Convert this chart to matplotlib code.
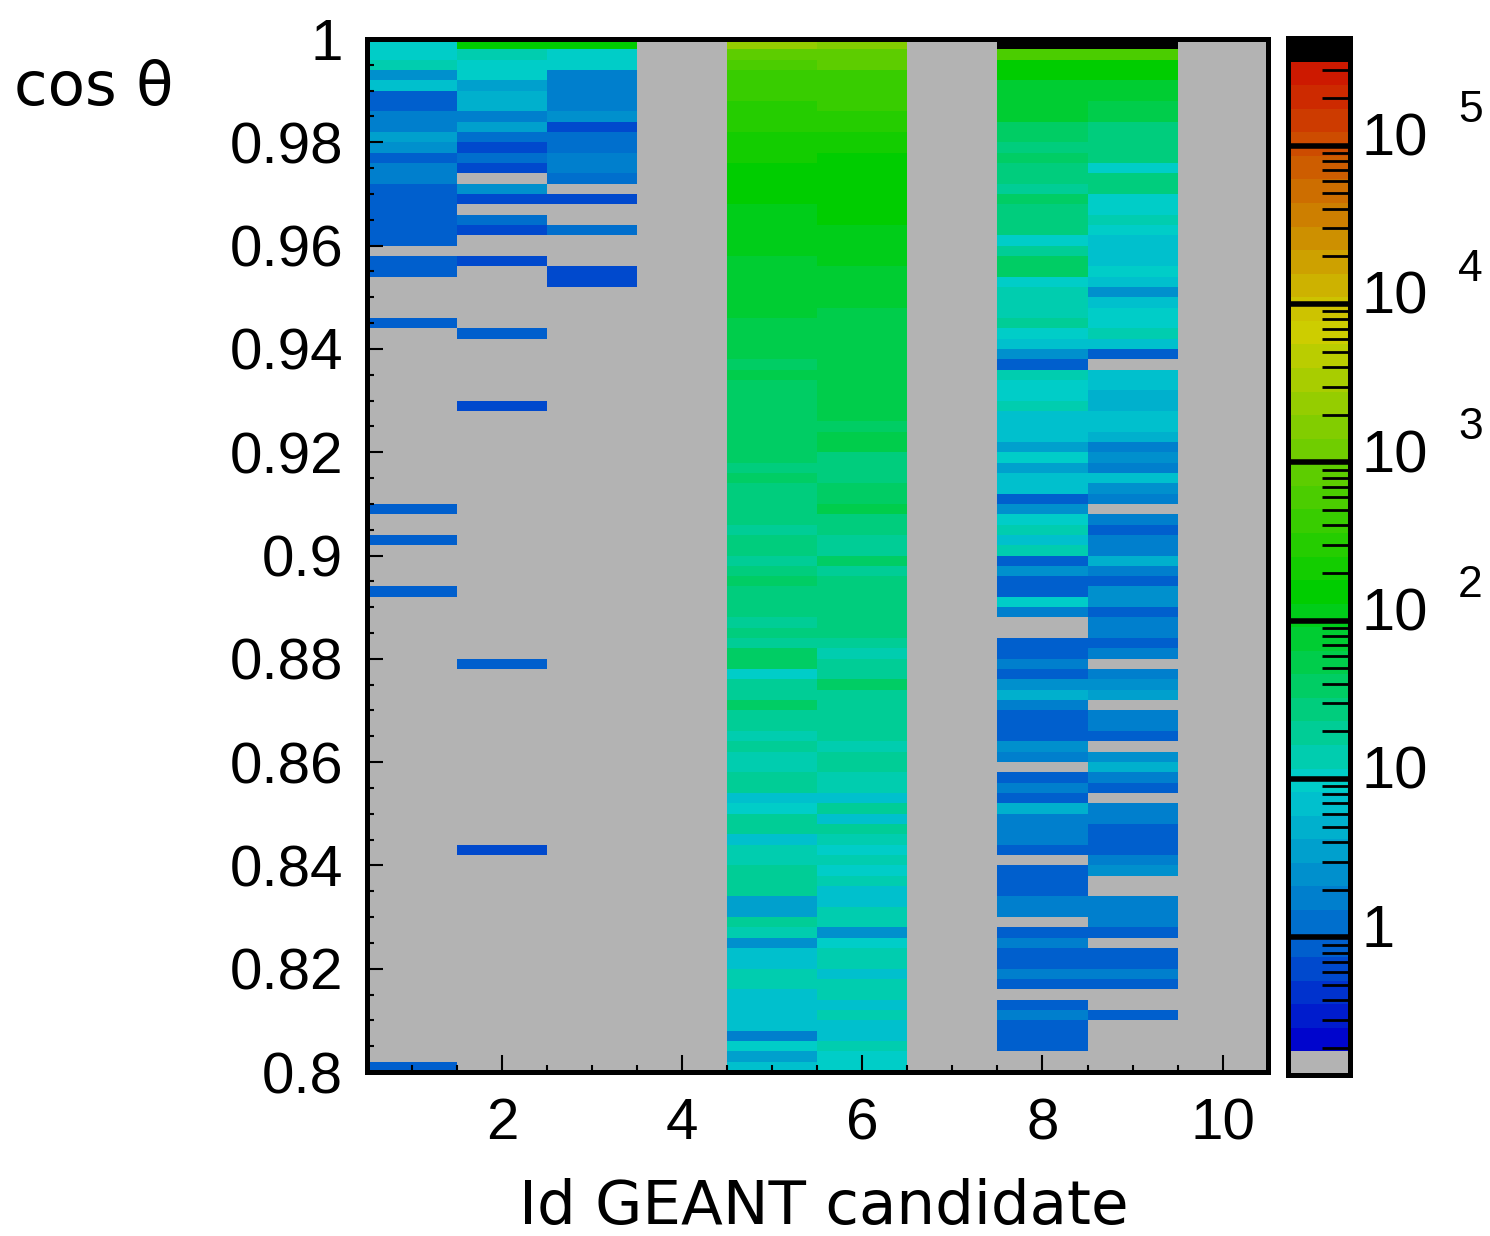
import numpy as np
import matplotlib.pyplot as plt
from matplotlib.colors import ListedColormap, LogNorm
from matplotlib.ticker import MultipleLocator

# 100 bins of cos(theta) between 0.8 and 1.0; every list runs from cos(theta) = 1 downwards
id1 = [10, 10, 14, 2.5, 7, 0.9, 0.9, 1.8, 1.8, 3.5,
       2.5, 0.9, 1.8, 1.8, 0.9, 0.9, 0.9, 0.9, 0.9, 0.9,
       0, 0.9, 0.9, 0, 0, 0, 0, 0.9, 0, 0,
       0, 0, 0, 0, 0, 0, 0, 0, 0, 0,
       0, 0, 0, 0, 0, 0.9, 0, 0, 0.9, 0,
       0, 0, 0, 0.9, 0, 0, 0, 0, 0, 0,
       0, 0, 0, 0, 0, 0, 0, 0, 0, 0,
       0, 0, 0, 0, 0, 0, 0, 0, 0, 0,
       0, 0, 0, 0, 0, 0, 0, 0, 0, 0,
       0, 0, 0, 0, 0, 0, 0, 0, 0, 0.9]

id2 = [155, 14, 10, 10, 3.5, 5, 5, 1.8, 3.5, 1.25,
       0.65, 1.25, 0.65, 0, 2.5, 0.65, 0, 1.25, 0.65, 0,
       0, 0.65, 0, 0, 0, 0, 0, 0, 0.9, 0,
       0, 0, 0, 0, 0, 0.65, 0, 0, 0, 0,
       0, 0, 0, 0, 0, 0, 0, 0, 0, 0,
       0, 0, 0, 0, 0, 0, 0, 0, 0, 0,
       0.9, 0, 0, 0, 0, 0, 0, 0, 0, 0,
       0, 0, 0, 0, 0, 0, 0, 0, 0.65, 0,
       0, 0, 0, 0, 0, 0, 0, 0, 0, 0,
       0, 0, 0, 0, 0, 0, 0, 0, 0, 0]

id3 = [155, 10, 10, 1.8, 1.8, 1.8, 1.8, 2.5, 0.65, 1.25,
       1.25, 1.8, 1.8, 1.25, 0, 0.65, 0, 0, 1.25, 0,
       0, 0, 0.65, 0.65, 0, 0, 0, 0, 0, 0] + [0] * 70

id5 = [2400, 850, 600, 430, 430, 430, 300, 300, 300, 220,
       220, 220, 155, 155, 155, 155, 110, 110, 110, 110,
       110, 78, 78, 78, 78, 78, 78, 55, 55, 55,
       55, 45, 55, 45, 45, 40, 40, 40, 40, 40,
       40, 28, 40, 28, 28, 28, 28, 19, 28, 28,
       19, 28, 40, 28, 28, 28, 19, 28, 19, 40,
       40, 10, 19, 19, 35, 19, 19, 14, 19, 14,
       14, 19, 19, 7, 10, 19, 19, 7, 14, 14,
       19, 19, 19, 3.5, 3.5, 19, 14, 2.5, 7, 7,
       14, 14, 7, 7, 7, 7, 1.8, 10, 3.5, 7]

id6 = [1900, 850, 850, 430, 430, 430, 430, 300, 300, 220,
       220, 155, 155, 155, 155, 155, 155, 155, 110, 110,
       110, 110, 78, 78, 78, 78, 62, 62, 62, 50,
       50, 55, 55, 55, 55, 62, 62, 40, 50, 50,
       28, 28, 28, 35, 35, 55, 28, 28, 19, 19,
       40, 19, 28, 28, 28, 28, 28, 28, 19, 14,
       19, 19, 35, 19, 19, 19, 19, 19, 15, 19,
       19, 14, 14, 7, 19, 7, 19, 14, 10, 14,
       10, 14, 7, 7, 14, 14, 2.5, 10, 14, 14,
       7, 14, 14, 7, 14, 7, 7, 14, 10, 10]

id8 = [4e5, 600, 155, 155, 78, 78, 78, 78, 40, 40,
       28, 40, 28, 28, 22, 35, 28, 28, 28, 10,
       19, 35, 35, 10, 14, 14, 14, 19, 10, 7,
       2.5, 0.9, 14, 10, 10, 14, 7, 7, 7, 3.5,
       10, 3.5, 7, 7, 0.9, 2.5, 10, 12, 7, 14,
       0.9, 2.5, 0.9, 0.9, 10, 1.8, 0, 0, 0.9, 0.9,
       1.8, 0.9, 2.5, 5, 1.8, 0.9, 0.9, 0.9, 2.5, 1.8,
       0, 0.9, 1.8, 0.9, 5, 1.8, 1.8, 1.8, 0.9, 0,
       0.9, 0.9, 0.9, 1.8, 1.8, 0, 0.9, 1.8, 0.9, 0.9,
       1.8, 0.9, 0, 0.9, 1.8, 0.9, 0.9, 0.9, 0, 0]

id9 = [4e5, 600, 155, 155, 78, 78, 55, 55, 28, 28,
       28, 28, 10, 28, 28, 10, 10, 14, 10, 7,
       7, 7, 10, 7, 2.5, 7, 10, 10, 14, 7,
       0.9, 0, 7, 7, 5, 5, 7, 7, 5, 1.8,
       2.5, 1.8, 7, 2.5, 1.8, 0, 1.8, 0.9, 1.8, 1.8,
       5, 1.8, 0.9, 2.5, 2.5, 0.9, 1.8, 1.8, 0.9, 1.8,
       0, 1.8, 2.5, 3.5, 0, 1.8, 1.8, 0.9, 0, 2.5,
       5, 1.8, 0.9, 0, 1.8, 1.8, 0.9, 0.9, 0.9, 1.8,
       2.5, 0, 0, 1.8, 1.8, 1.8, 0.9, 0, 0.9, 0.9,
       1.8, 0.9, 0, 0, 0.9, 0, 0, 0, 0, 0]

candidates = {1: id1, 2: id2, 3: id3, 5: id5, 6: id6, 8: id8, 9: id9}

y_ticks = [0.8, 0.82, 0.84, 0.86, 0.88, 0.9, 0.92, 0.94, 0.96, 0.98, 1.0]
y_labels = ['0.8', '0.82', '0.84', '0.86', '0.88', '0.9', '0.92', '0.94', '0.96', '0.98', '1']
x_ticks = [2, 4, 6, 8, 10]

# histogram grid
x_edges = np.arange(0.5, 11.0, 1.0)
y_edges = np.linspace(0.8, 1.0, 101)
H = np.zeros((100, 10))
for idx, vals in candidates.items():
    assert len(vals) == 100
    H[:, idx - 1] = np.array(vals, dtype=float)[::-1]
H = np.ma.masked_equal(H, 0)

# palette: gray underflow band, 42 colour bands, black overflow band
anchors_x = [0, 4, 10, 11, 18, 19, 30, 31, 41]
anchors_rgb = np.array([[0, 5, 205], [0, 95, 205], [0, 192, 205], [0, 205, 200],
                        [0, 205, 25], [0, 205, 0], [205, 205, 0], [205, 195, 0],
                        [205, 25, 0]]) / 255.0
band = np.arange(42)
ramp = np.column_stack([np.interp(band, anchors_x, anchors_rgb[:, c]) for c in range(3)])
colors = [(0.7, 0.7, 0.7)] + [tuple(c) for c in ramp] + [(0, 0, 0)]
cmap = ListedColormap(colors)
zlo, zhi = -0.87, 5.68
norm = LogNorm(vmin=10**zlo, vmax=10**zhi)

fig = plt.figure(figsize=(14.9, 12.36), dpi=100)
ax = fig.add_axes([366.7 / 1490, 1 - 1072 / 1236, 901 / 1490, 1033 / 1236])
cax = fig.add_axes([1288 / 1490, 1 - 1075 / 1236, 62 / 1490, 1037 / 1236])

ax.set_facecolor('#b3b3b3')
ax.pcolormesh(x_edges, y_edges, H, cmap=cmap, norm=norm, edgecolors='none',
              antialiased=False)
ax.set_xlim(0.5, 10.5)
ax.set_ylim(0.8, 1.0)

tick_font = dict(family='Liberation Sans', size=42)
ax.set_yticks(y_ticks, y_labels, fontdict=tick_font)
ax.set_xticks(x_ticks, [str(v) for v in x_ticks], fontdict=tick_font)
ax.yaxis.set_minor_locator(MultipleLocator(0.005))
ax.xaxis.set_minor_locator(MultipleLocator(0.5))
ax.tick_params(axis='y', which='major', direction='in', length=11.5, width=1.5, pad=17)
ax.tick_params(axis='y', which='minor', direction='in', length=5, width=1.5)
ax.tick_params(axis='x', which='major', direction='in', length=12, width=1.5, pad=18)
ax.tick_params(axis='x', which='minor', direction='in', length=5, width=1.5)
for sp in ax.spines.values():
    sp.set_linewidth(3.6)

# colour scale
band_edges = np.logspace(zlo, zhi, len(colors) + 1)
band_mid = np.sqrt(band_edges[:-1] * band_edges[1:])
cax.pcolormesh([0, 1], band_edges, band_mid[:, None], cmap=cmap, norm=norm,
               edgecolors='none', antialiased=False)
cax.set_yscale('log')
cax.set_ylim(10**zlo, 10**zhi)
cax.set_xlim(0, 1)
cax.set_xticks([])
cax.set_yticks([])
cax.minorticks_off()
for sp in cax.spines.values():
    sp.set_linewidth(3.6)

minor = [m * 10.0**k for k in range(-1, 6) for m in range(2, 10)]
minor = [v for v in minor if 10**zlo < v < 10**zhi]
cax.hlines(minor, 0.55, 1.0, colors='k', linewidth=2.0)
cax.hlines([10.0**k for k in range(6)], 0, 1.0, colors='k', linewidth=4.0)

for k in range(6):
    base = '1' if k == 0 else '10'
    cax.annotate(base, xy=(1.19, 10.0**k), xycoords=('axes fraction', 'data'),
                 xytext=(0, 4), textcoords='offset points', ha='left', va='center',
                 family='Liberation Sans', fontsize=43)
    if k >= 2:
        cax.annotate(str(k), xy=(2.74, 10.0**k), xycoords=('axes fraction', 'data'),
                     xytext=(0, 25), textcoords='offset points', ha='left', va='center',
                     family='Liberation Sans', fontsize=32)

fig.text(14 / 1490, 1 - 105 / 1236, 'cos θ', family='DejaVu Sans', fontsize=44,
         ha='left', va='baseline')
fig.text(824 / 1490, 1 - 1224 / 1236, 'Id GEANT candidate', family='DejaVu Sans',
         fontsize=44, ha='center', va='baseline')

fig.savefig('out.png', dpi=100)
